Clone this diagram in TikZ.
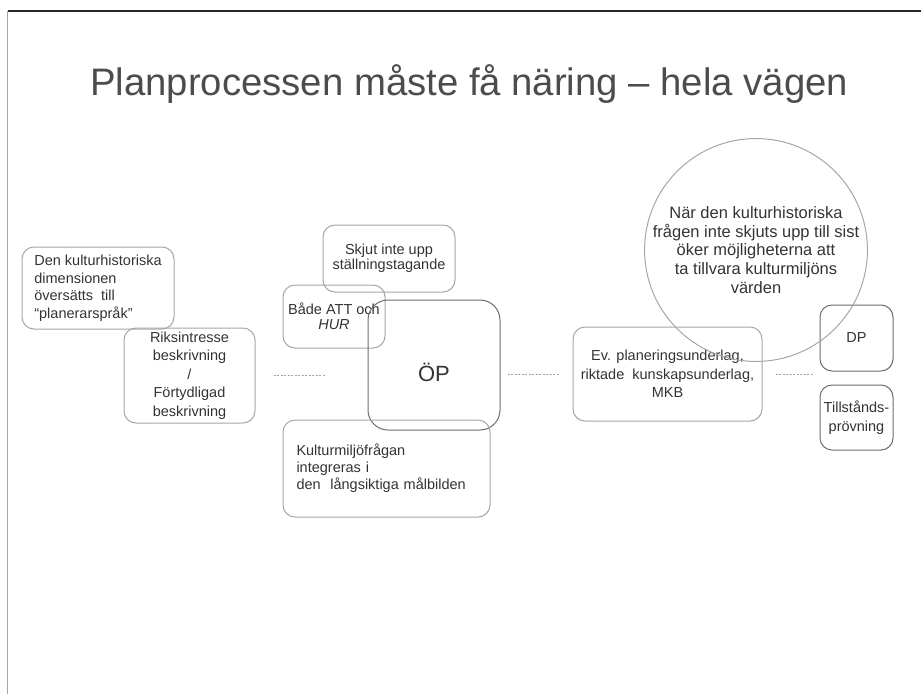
\documentclass[tikz,border=0pt]{standalone}
\usepackage{fontspec}
\setmainfont{Liberation Sans}
\begin{document}
\begin{tikzpicture}[x=1pt,y=-1pt,
    box/.style={draw=gray!70,line width=1pt,rounded corners=12pt,inner sep=0pt,
      text=black!80,font=\fontsize{14.5}{18}\selectfont},
    link/.style={draw=gray!70,line width=1pt,dash pattern=on 2pt off 1.5pt}]

        \useasboundingbox (0,0) rectangle (921,694);
        \draw[line width=2pt,black!85] (7.5,11) -- (921,11);
        \draw[line width=1.2pt,gray!70] (7.5,11) -- (7.5,694);

        \node[anchor=base west,inner sep=0pt,text=black!70,font=\fontsize{38.3}{40}\selectfont]
          (title) at (90,95) {Planprocessen måste få näring – hela vägen};

        \begin{scope}[every node/.style={box}]
          \node[minimum width=152,minimum height=82,align=left,
            font=\fontsize{14.5}{17.5}\selectfont] (dim) at (98,288)
            {Den kulturhistoriska\\dimensionen\\översätts\ \ till\\“planerarspråk”};
          \node[minimum width=131,minimum height=95,align=center,
            font=\fontsize{14.5}{18.5}\selectfont] (riks) at (189.5,375.5)
            {Riksintresse\\beskrivning\\/\\Förtydligad\\beskrivning};
          \node[minimum width=132,minimum height=67,align=center,
            font=\fontsize{14.5}{15}\selectfont] (skjut) at (389,258.5)
            {Skjut inte upp\\ställningstagande};
          \node[minimum width=102,minimum height=63,align=center,
            font=\fontsize{14.5}{15}\selectfont] (both) at (334,316.5)
            {Både ATT och\\\textit{HUR}};
          \node[minimum width=132,minimum height=130,rounded corners=20pt,
            draw=gray!85!black,font=\fontsize{22}{24}\selectfont] (op) at (434,365)
            {\raisebox{-7pt}[\height][\depth]{ÖP}};
          \node[minimum width=207,minimum height=97,text width=180,inner xsep=12pt,align=left,
            font=\fontsize{14.5}{17}\selectfont] (kultur) at (386.5,468.5)
            {Kulturmiljöfrågan\\integreras i\\den\ \ långsiktiga målbilden};
          \node[minimum width=189,minimum height=94,align=center,
            font=\fontsize{14.5}{18.5}\selectfont] (ev) at (667.5,374)
            {Ev. planeringsunderlag,\\riktade\ \ kunskapsunderlag,\\MKB};
          \node[minimum width=73,minimum height=66,draw=gray!85!black] (dp) at (856.5,338) {DP};
          \node[minimum width=73,minimum height=65,align=center,draw=gray!85!black,
            font=\fontsize{14.5}{19}\selectfont] (till) at (856.5,417.5)
            {Tillstånds-\\prövning};
          \node[circle,rounded corners=0pt,minimum size=216,align=center,
            font=\fontsize{16.5}{18.6}\selectfont] (circ) at (756,250)
            {När den kulturhistoriska\\frågen inte skjuts upp till sist\\öker möjligheterna att\\ta tillvara kulturmiljöns\\värden};
        \end{scope}

        \begin{scope}[every edge/.style={link}]
          \path (riks.east) edge[shorten <=18pt,shorten >=43pt] (riks.east -| op.west);
          \path (ev.west -| op.east) edge[shorten <=7pt,shorten >=13pt] (ev.west);
          \path (ev.east) edge[shorten <=13pt,shorten >=7pt] (ev.east -| dp.west);
        \end{scope}

      \end{tikzpicture}
\end{document}
